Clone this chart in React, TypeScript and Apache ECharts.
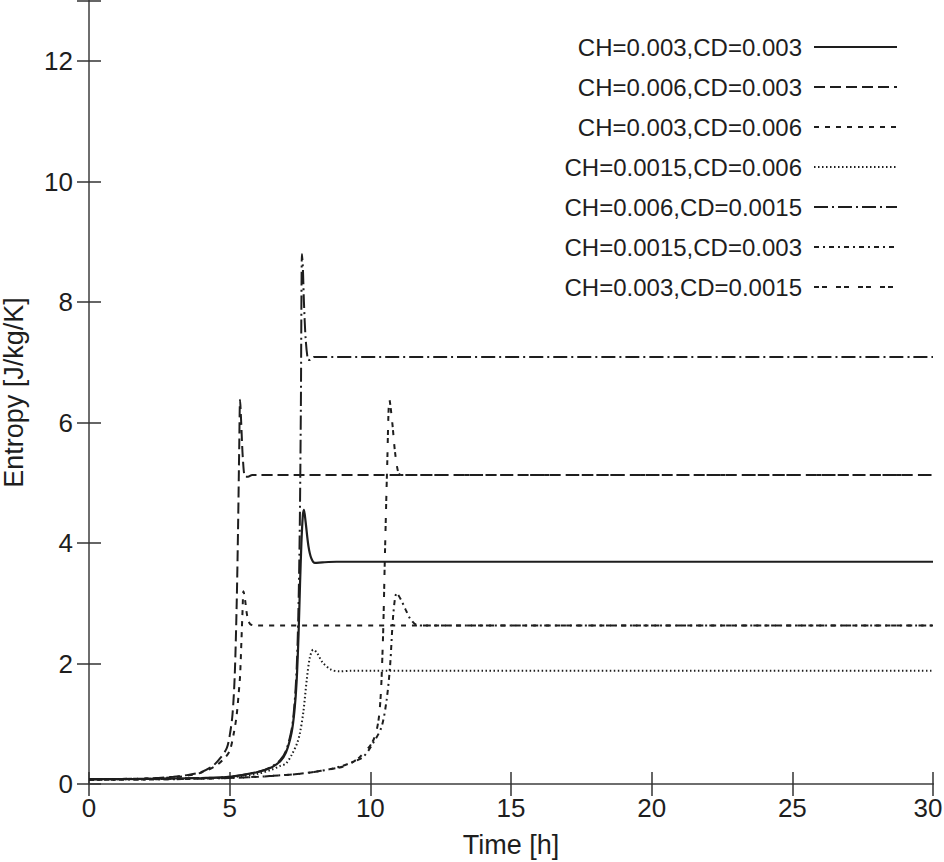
import React, { useEffect, useRef } from "react";
import * as echarts from "echarts";

const seriesNames = [
  "CH=0.003,CD=0.003",
  "CH=0.006,CD=0.003",
  "CH=0.003,CD=0.006",
  "CH=0.0015,CD=0.006",
  "CH=0.006,CD=0.0015",
  "CH=0.0015,CD=0.003",
  "CH=0.003,CD=0.0015",
];

const t1 = [0, 2, 4, 5, 6, 6.5, 6.8, 7.0, 7.2, 7.3, 7.38, 7.45, 7.5, 7.55, 7.6, 7.64, 7.7, 7.8, 7.9, 8.03, 8.3, 8.8, 30];
const v1 = [0.08, 0.085, 0.1, 0.12, 0.2, 0.28, 0.38, 0.52, 0.85, 1.2, 1.7, 2.5, 3.3, 4.0, 4.45, 4.55, 4.35, 3.95, 3.75, 3.67, 3.68, 3.69, 3.69];

const t2 = [0, 2, 3, 3.5, 4, 4.4, 4.7, 4.9, 5.0, 5.1, 5.18, 5.25, 5.3, 5.34, 5.37, 5.41, 5.47, 5.55, 5.65, 5.8, 30];
const v2 = [0.08, 0.09, 0.12, 0.15, 0.2, 0.3, 0.45, 0.6, 0.8, 1.15, 1.8, 3.0, 4.3, 5.6, 6.38, 6.0, 5.4, 5.1, 5.1, 5.13, 5.13];

const t3 = [0, 2, 3, 3.5, 4, 4.5, 4.8, 5.0, 5.15, 5.25, 5.32, 5.37, 5.42, 5.46, 5.49, 5.55, 5.62, 5.72, 5.9, 30];
const v3 = [0.08, 0.09, 0.11, 0.14, 0.19, 0.3, 0.42, 0.55, 0.85, 1.15, 1.5, 1.8, 2.4, 2.9, 3.2, 3.05, 2.8, 2.66, 2.63, 2.63];

const t4 = [0, 3, 5, 6, 6.5, 6.8, 7.0, 7.2, 7.4, 7.5, 7.62, 7.74, 7.85, 7.97, 8.1, 8.3, 8.6, 8.9, 9.3, 30];
const v4 = [0.08, 0.085, 0.11, 0.17, 0.24, 0.3, 0.34, 0.48, 0.68, 0.85, 1.2, 1.73, 2.1, 2.23, 2.18, 2.02, 1.9, 1.87, 1.88, 1.88];

const t5 = [0, 2, 4, 5, 6, 6.5, 6.8, 7.0, 7.2, 7.3, 7.38, 7.44, 7.49, 7.53, 7.57, 7.6, 7.64, 7.7, 7.78, 7.85, 8.0, 30];
const v5 = [0.08, 0.085, 0.1, 0.12, 0.2, 0.29, 0.4, 0.55, 0.9, 1.3, 1.9, 2.8, 4.2, 6.2, 8.8, 8.6, 8.0, 7.4, 7.05, 7.04, 7.09, 7.09];

const t6 = [0, 3, 5, 6, 7, 7.5, 8, 8.5, 9, 9.4, 9.75, 10.1, 10.4, 10.58, 10.7, 10.82, 10.94, 11.1, 11.25, 11.41, 11.65, 12, 30];
const v6 = [0.07, 0.08, 0.1, 0.12, 0.15, 0.17, 0.2, 0.24, 0.3, 0.37, 0.45, 0.68, 0.95, 1.4, 1.95, 2.84, 3.17, 3.05, 2.9, 2.75, 2.64, 2.63, 2.63];

const t7 = [0, 3, 5, 6, 7, 7.5, 8, 8.5, 9.1, 9.63, 10.11, 10.32, 10.44, 10.52, 10.6, 10.68, 10.78, 10.88, 11.0, 11.1, 30];
const v7 = [0.07, 0.08, 0.1, 0.12, 0.15, 0.17, 0.2, 0.24, 0.3, 0.45, 0.73, 1.17, 2.28, 3.83, 5.3, 6.38, 6.0, 5.5, 5.16, 5.13, 5.13];

const xTicks = [0, 5, 10, 15, 20, 25, 30];
const yTicks = [0, 2, 4, 6, 8, 10, 12];

const times = [t1, t2, t3, t4, t5, t6, t7];
const values = [v1, v2, v3, v4, v5, v6, v7];

const dashes: any[] = [
  "solid",
  [11, 5],
  [5, 6],
  [1.5, 2.5],
  [14, 4, 2, 4],
  [5, 4, 2, 4],
  [5, 3, 5, 9],
];
const widths = [2.2, 2, 2, 2, 2, 2, 2];

const FONT = "'Liberation Sans', Arial, Helvetica, sans-serif";
const INK = "#1e1e1e";

export default function App() {
  const ref = useRef<HTMLDivElement>(null);
  useEffect(() => {
    if (!ref.current) return;
    const chart = echarts.init(ref.current, undefined, { renderer: "svg" });
    const axisLine = { show: true, lineStyle: { color: "#6e6e6e", width: 2 } };
    const axisTick = { show: true, inside: true, length: 12, lineStyle: { color: "#333", width: 1.5 } };
    const xMax = xTicks[xTicks.length - 1];
    const xBase = { type: "value" as const, min: xTicks[0], max: xMax, interval: 5, splitLine: { show: false } };
    const yBase = { type: "value" as const, min: 0, max: 13, interval: 2, splitLine: { show: false } };
    chart.setOption({
      animation: false,
      backgroundColor: "#fff",
      grid: { left: 89, right: 11, top: 1, bottom: 78, containLabel: false, outerBoundsMode: "none" },
      legend: {
        orient: "vertical",
        right: 41,
        top: 30,
        align: "right",
        itemWidth: 83,
        itemHeight: 20,
        itemGap: 16,
        data: seriesNames,
        itemStyle: { color: "transparent", borderWidth: 0, opacity: 0 },
        textStyle: { fontFamily: FONT, fontSize: 24, color: INK, lineHeight: 24, padding: [0, 7, 0, 0] },
      },
      xAxis: [
        {
          ...xBase,
          position: "bottom",
          axisLine,
          axisTick,
          axisLabel: {
            fontFamily: FONT,
            fontSize: 26,
            color: INK,
            margin: 11,
            formatter: (v: number) => (v === xMax ? "{r|" + v + "}" : String(v)),
            rich: { r: { fontFamily: FONT, fontSize: 26, color: INK, padding: [0, 10, 0, 0] } },
          },
          name: "Time [h]",
          nameLocation: "middle",
          nameGap: 47,
          nameTextStyle: { fontFamily: FONT, fontSize: 27, color: INK },
        },
        { ...xBase, position: "top", axisLine, axisTick, axisLabel: { show: false } },
      ],
      yAxis: [
        {
          ...yBase,
          position: "left",
          axisLine,
          axisTick,
          axisLabel: {
            fontFamily: FONT,
            fontSize: 26,
            color: INK,
            margin: 16,
            formatter: (v: number) => (yTicks.indexOf(v) >= 0 ? String(v) : ""),
          },
          name: "Entropy [J/kg/K]",
          nameLocation: "middle",
          nameGap: 62,
          nameTextStyle: { fontFamily: FONT, fontSize: 27, color: INK },
        },
        { ...yBase, position: "right", axisLine, axisTick, axisLabel: { show: false } },
      ],
      series: seriesNames.map((name, i) => ({
        name,
        type: "line",
        xAxisIndex: 0,
        yAxisIndex: 0,
        symbol: "none",
        smooth: 0.3,
        data: times[i].map((t, k) => [t, values[i][k]]),
        lineStyle: { color: INK, width: widths[i], type: dashes[i] },
        itemStyle: { color: INK },
      })),
    });
    return () => chart.dispose();
  }, []);
  return <div ref={ref} style={{ position: "fixed", left: 0, top: 0, width: 944, height: 862 }} />;
}
